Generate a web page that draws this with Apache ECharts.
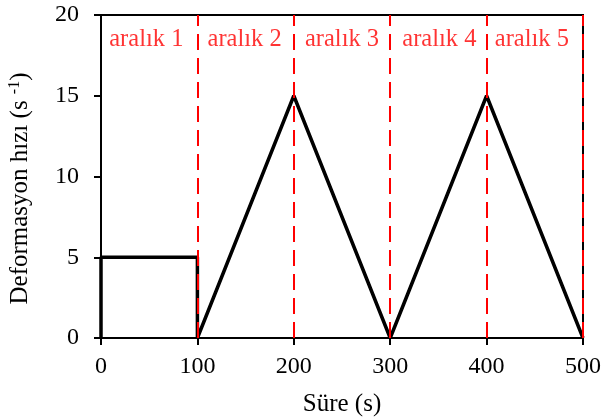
<!DOCTYPE html>
<html><head><meta charset="utf-8">
<script src="https://cdn.jsdelivr.net/npm/echarts@6/dist/echarts.min.js"></script>
<style>html,body{margin:0;padding:0;background:#fff}#c{width:603px;height:419px}</style>
</head><body><div id="c"></div>
<script>
const rateX = [0, 0, 100, 100, 200, 300, 400, 500];
const rateY = [0, 5, 5, 0, 15, 0, 15, 0];
const boundaries = [100, 200, 300, 400, 500];
const intervalNames = ['aralık 1', 'aralık 2', 'aralık 3', 'aralık 4', 'aralık 5'];
const intervalCenters = [47, 149, 250, 351, 447];
const labelLevel = 18.5;

const font = '"Liberation Serif", "Times New Roman", serif';
const chart = echarts.init(document.getElementById('c'));
chart.setOption({
  animation: false,
  grid: {left: 101, right: 20, top: 15, bottom: 81, show: true, borderColor: '#000', borderWidth: 2,
         containLabel: false, outerBoundsMode: 'none'},
  xAxis: {
    type: 'value', min: 0, max: 500, interval: 100,
    name: 'Süre (s)', nameLocation: 'middle', nameGap: 54,
    nameTextStyle: {fontFamily: font, fontSize: 25, color: '#000'},
    axisLine: {lineStyle: {color: '#000', width: 2}},
    axisTick: {show: true, length: 7, lineStyle: {color: '#000', width: 2}},
    axisLabel: {fontFamily: font, fontSize: 24, color: '#000', margin: 17},
    splitLine: {show: false}
  },
  yAxis: {
    type: 'value', min: 0, max: 20, interval: 5,
    name: '{n|Deformasyon hızı (s }{s|-1}{n|)}', nameLocation: 'middle', nameGap: 68,
    nameTextStyle: {fontFamily: font, fontSize: 25, color: '#000', padding: [0, 24, 0, 0],
      rich: {n: {fontFamily: font, fontSize: 25, color: '#000'},
             s: {fontFamily: font, fontSize: 16, color: '#000', verticalAlign: 'top', padding: [0, 0, 10, 0]}}},
    axisLine: {lineStyle: {color: '#000', width: 2}},
    axisTick: {show: true, length: 7, lineStyle: {color: '#000', width: 2}},
    axisLabel: {fontFamily: font, fontSize: 24, color: '#000', margin: 22},
    splitLine: {show: false}
  },
  series: [
    {
      type: 'line', data: rateX.map((x, i) => [x, rateY[i]]),
      symbol: 'none', lineStyle: {color: '#000', width: 3.5}, z: 3,
      markLine: {
        silent: true, symbol: 'none', label: {show: false},
        lineStyle: {color: '#ff0000', width: 2, type: [16, 8]},
        data: boundaries.map(b => ({xAxis: b}))
      }
    },
    {
      type: 'scatter', symbolSize: 0,
      data: intervalCenters.map((c, i) => ({value: [c, labelLevel], name: intervalNames[i]})),
      label: {show: true, position: 'inside', formatter: p => p.name,
        fontFamily: font, fontSize: 24.5, color: '#ff0000'}
    }
  ]
});
</script></body></html>
